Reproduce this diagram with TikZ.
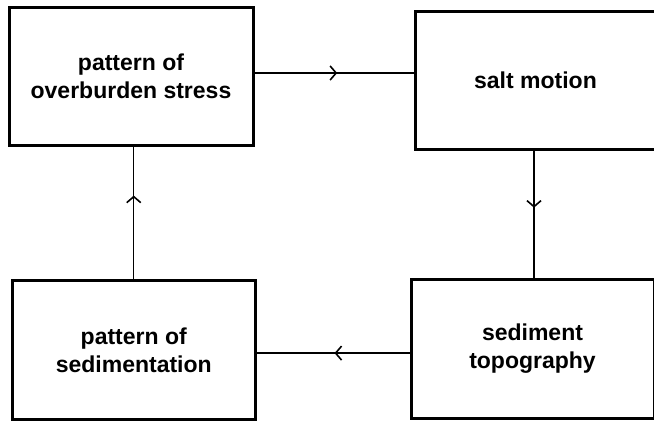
\documentclass[tikz,border=0pt]{standalone}
\usepackage{fontspec}
\setmainfont{Liberation Sans}
\usetikzlibrary{arrows.meta,decorations.markings}
\tikzset{
  box/.style={draw=black, line width=3pt, fill=white, inner sep=0pt,
    align=center, font=\fontsize{23}{28}\selectfont\bfseries},
  conn/.style={draw=black, line width=1.4pt},
  midarrow/.style={postaction={decorate}, decoration={markings,
    mark=at position #1 with {\arrow{Straight Barb[length=6pt,width=14pt,line width=1.6pt]}}}}
}
\begin{document}
\begin{tikzpicture}[x=1pt,y=-1pt]
\useasboundingbox (0,0) rectangle (654,424);
\node[box, minimum width=244pt, minimum height=138pt] (b1) at (131,76) {pattern of\\overburden stress};
\node[box, minimum width=241pt, minimum height=137.5pt] (b2) at (535.5,80.25) {salt motion};
\node[box, minimum width=242.5pt, minimum height=139pt] (b3) at (133.75,350.2) {pattern of\\sedimentation};
\node[box, minimum width=243pt, minimum height=139pt] (b4) at (532.5,348.6) {sediment\\topography};
\coordinate (t1) at ([yshift=3pt]b1.east);
\coordinate (t2) at (t1 -| b2.west);
\draw[conn, midarrow=0.52] (t1) -- (t2);
\coordinate (r1) at ([xshift=-1.5pt]b2.south);
\coordinate (r2) at (r1 |- b4.north);
\draw[conn, midarrow=0.45] (r1) -- (r2);
\coordinate (q1) at ([yshift=-4.5pt]b4.west);
\coordinate (q2) at (q1 -| b3.east);
\draw[conn, midarrow=0.49] (q1) -- (q2);
\coordinate (l2) at (b3.north);
\coordinate (l1) at (l2 |- b1.south);
\draw[conn, midarrow=0.63] (l2) -- (l1);
\end{tikzpicture}
\end{document}
